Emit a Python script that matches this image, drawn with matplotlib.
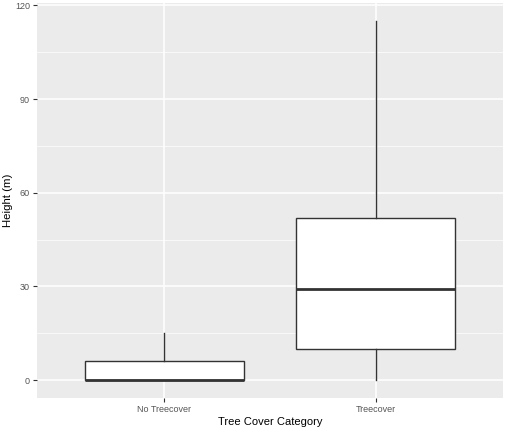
import matplotlib
matplotlib.use("Agg")
import matplotlib.pyplot as plt

categories = ["No Treecover", "Treecover"]
whislo = [0, 0]
q1 = [0, 10]
med = [0, 29]
q3 = [6, 52]
whishi = [15, 115]
yticks = [0, 30, 60, 90, 120]
minor_yticks = [15, 45, 75, 105]

plt.rcParams['font.family'] = ['Liberation Sans', 'DejaVu Sans']

fig = plt.figure(figsize=(5.05, 4.29), dpi=100)
ax = fig.add_axes([37/505, (429-398)/429, 466/505, 395/429])
ax.set_facecolor('#EBEBEB')

stats = []
for i, c in enumerate(categories):
    stats.append(dict(label=c, whislo=whislo[i], q1=q1[i], med=med[i], q3=q3[i], whishi=whishi[i], fliers=[]))

ax.bxp(stats, positions=[1, 2], widths=0.75, patch_artist=True, showcaps=False,
       boxprops=dict(facecolor='white', edgecolor='#333333', linewidth=1.0),
       whiskerprops=dict(color='#333333', linewidth=1.0),
       medianprops=dict(color='#333333', linewidth=2.0),
       zorder=3)

ax.set_xlim(0.4, 2.6)
ax.set_ylim(-5.75, 120.75)
ax.set_yticks(yticks)
ax.set_yticks(minor_yticks, minor=True)
ax.set_xticks([1, 2])
ax.set_xticklabels(categories)
ax.grid(True, which='major', color='white', linewidth=1.1, zorder=0)
ax.grid(True, which='minor', axis='y', color='white', linewidth=0.5, zorder=0)
ax.set_axisbelow(True)
for s in ax.spines.values():
    s.set_visible(False)
ax.tick_params(which='major', length=3, color='#333333', width=0.8, labelsize=6.5, labelcolor='#555555', pad=2)
ax.tick_params(which='minor', length=0)
ax.set_xlabel("Tree Cover Category", fontsize=8.0, color='black', labelpad=2)
ax.set_ylabel("Height (m)", fontsize=8.2, color='black')
ax.yaxis.set_label_coords(-0.052, 0.5)

fig.savefig("out.png", dpi=100)
